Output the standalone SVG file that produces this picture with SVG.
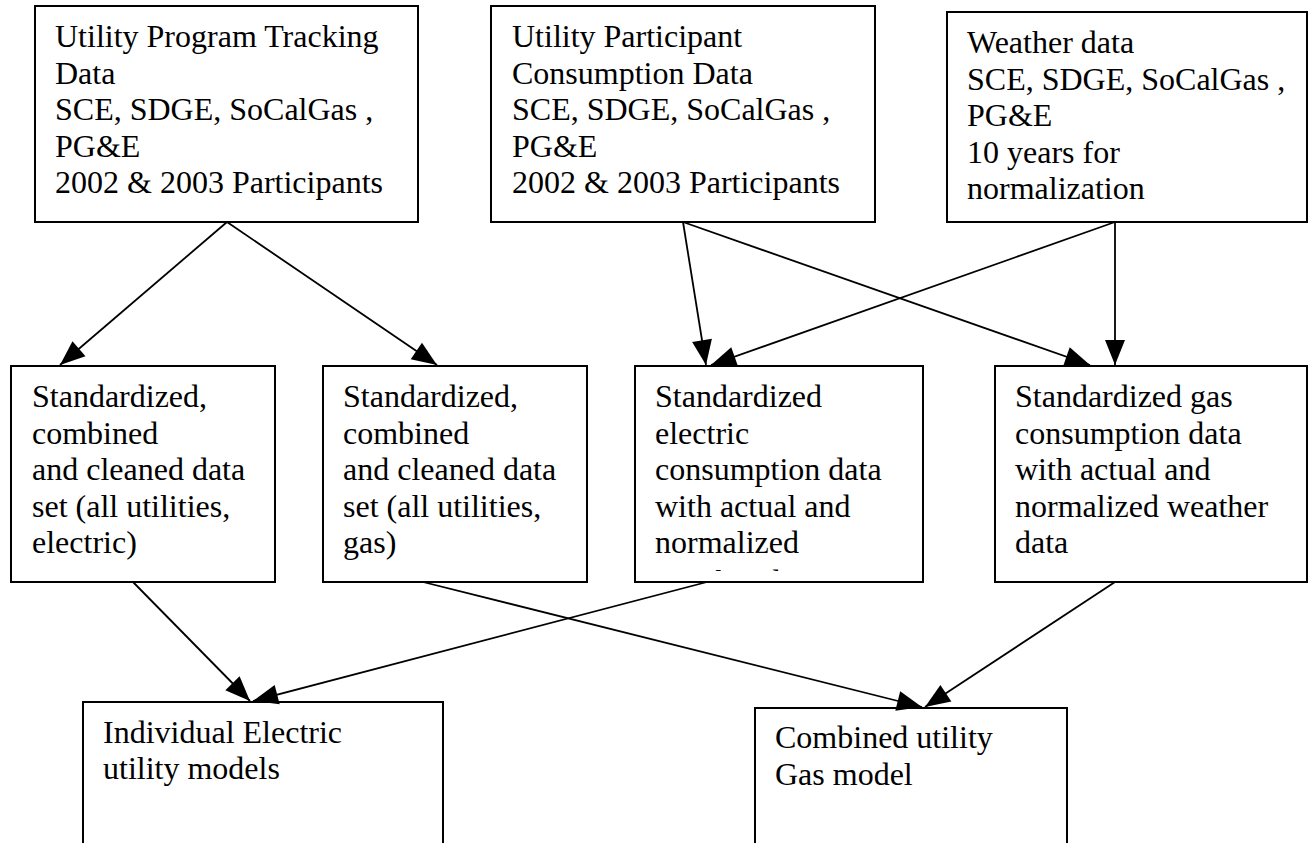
<svg xmlns="http://www.w3.org/2000/svg" width="1309" height="843" viewBox="0 0 1309 843">
<style>
.box{fill:#fff;stroke:#000;stroke-width:2}
.t{font-family:"Liberation Serif","Times New Roman",serif;font-size:32px;fill:#000}
.c{stroke:#000;stroke-width:1.8;fill:none;marker-end:url(#ah)}
</style>
<defs>
<marker id="ah" markerUnits="userSpaceOnUse" markerWidth="28" markerHeight="22" refX="25" refY="10" orient="auto" overflow="visible">
<path d="M0,0 L25,10 L0,20 z" fill="#000"/>
</marker>
<clipPath id="clipC"><rect x="635" y="366" width="288" height="205"/></clipPath>
</defs>
<rect width="1309" height="843" fill="#fff"/>
<g id="n1">
<rect class="box" x="35" y="6" width="383" height="216"/>
<text class="t"><tspan x="55" y="47">Utility Program Tracking</tspan><tspan x="55" y="83.5">Data</tspan><tspan x="55" y="120">SCE, SDGE, SoCalGas ,</tspan><tspan x="55" y="156.5">PG&amp;E</tspan><tspan x="55" y="193">2002 &amp; 2003 Participants</tspan></text>
</g>
<g id="n2">
<rect class="box" x="491" y="6" width="384" height="216"/>
<text class="t"><tspan x="512" y="47">Utility Participant</tspan><tspan x="512" y="83.5">Consumption Data</tspan><tspan x="512" y="120">SCE, SDGE, SoCalGas ,</tspan><tspan x="512" y="156.5">PG&amp;E</tspan><tspan x="512" y="193">2002 &amp; 2003 Participants</tspan></text>
</g>
<g id="n3">
<rect class="box" x="947" y="12" width="360" height="210"/>
<text class="t"><tspan x="967" y="53">Weather data</tspan><tspan x="967" y="89.5">SCE, SDGE, SoCalGas ,</tspan><tspan x="967" y="126">PG&amp;E</tspan><tspan x="967" y="162.5">10 years for</tspan><tspan x="967" y="199">normalization</tspan></text>
</g>
<g id="nA">
<rect class="box" x="11" y="366" width="264" height="216"/>
<text class="t"><tspan x="32" y="407">Standardized,</tspan><tspan x="32" y="443.5">combined</tspan><tspan x="32" y="480">and cleaned data</tspan><tspan x="32" y="516.5">set (all utilities,</tspan><tspan x="32" y="553">electric)</tspan></text>
</g>
<g id="nB">
<rect class="box" x="323" y="366" width="264" height="216"/>
<text class="t"><tspan x="343" y="407">Standardized,</tspan><tspan x="343" y="443.5">combined</tspan><tspan x="343" y="480">and cleaned data</tspan><tspan x="343" y="516.5">set (all utilities,</tspan><tspan x="343" y="553">gas)</tspan></text>
</g>
<g id="nC">
<rect class="box" x="635" y="366" width="288" height="216"/>
<text class="t" clip-path="url(#clipC)"><tspan x="655" y="407">Standardized</tspan><tspan x="655" y="443.5">electric</tspan><tspan x="655" y="480">consumption data</tspan><tspan x="655" y="516.5">with actual and</tspan><tspan x="655" y="553">normalized</tspan><tspan x="655" y="592">weather data</tspan></text>
</g>
<g id="nD">
<rect class="box" x="995" y="366" width="312" height="216"/>
<text class="t"><tspan x="1015" y="407">Standardized gas</tspan><tspan x="1015" y="443.5">consumption data</tspan><tspan x="1015" y="480">with actual and</tspan><tspan x="1015" y="516.5">normalized weather</tspan><tspan x="1015" y="553">data</tspan></text>
</g>
<g id="nE">
<rect class="box" x="83" y="702" width="360" height="160"/>
<text class="t"><tspan x="103" y="743">Individual Electric</tspan><tspan x="103" y="779">utility models</tspan></text>
</g>
<g id="nF">
<rect class="box" x="755" y="708" width="312" height="160"/>
<text class="t"><tspan x="775" y="748">Combined utility</tspan><tspan x="775" y="785">Gas model</tspan></text>
</g>
<g id="connectors">
<line class="c" x1="227" y1="222" x2="60" y2="365"/>
<line class="c" x1="227" y1="222" x2="437" y2="365"/>
<line class="c" x1="683" y1="222" x2="706" y2="365"/>
<line class="c" x1="683" y1="222" x2="1090" y2="365"/>
<line class="c" x1="1115" y1="222" x2="711" y2="365"/>
<line class="c" x1="1115" y1="222" x2="1115" y2="365"/>
<line class="c" x1="133" y1="582" x2="250" y2="701"/>
<line class="c" x1="707" y1="582" x2="253" y2="701"/>
<line class="c" x1="423" y1="582" x2="922" y2="707"/>
<line class="c" x1="1115" y1="582" x2="925" y2="707"/>
</g>
</svg>
